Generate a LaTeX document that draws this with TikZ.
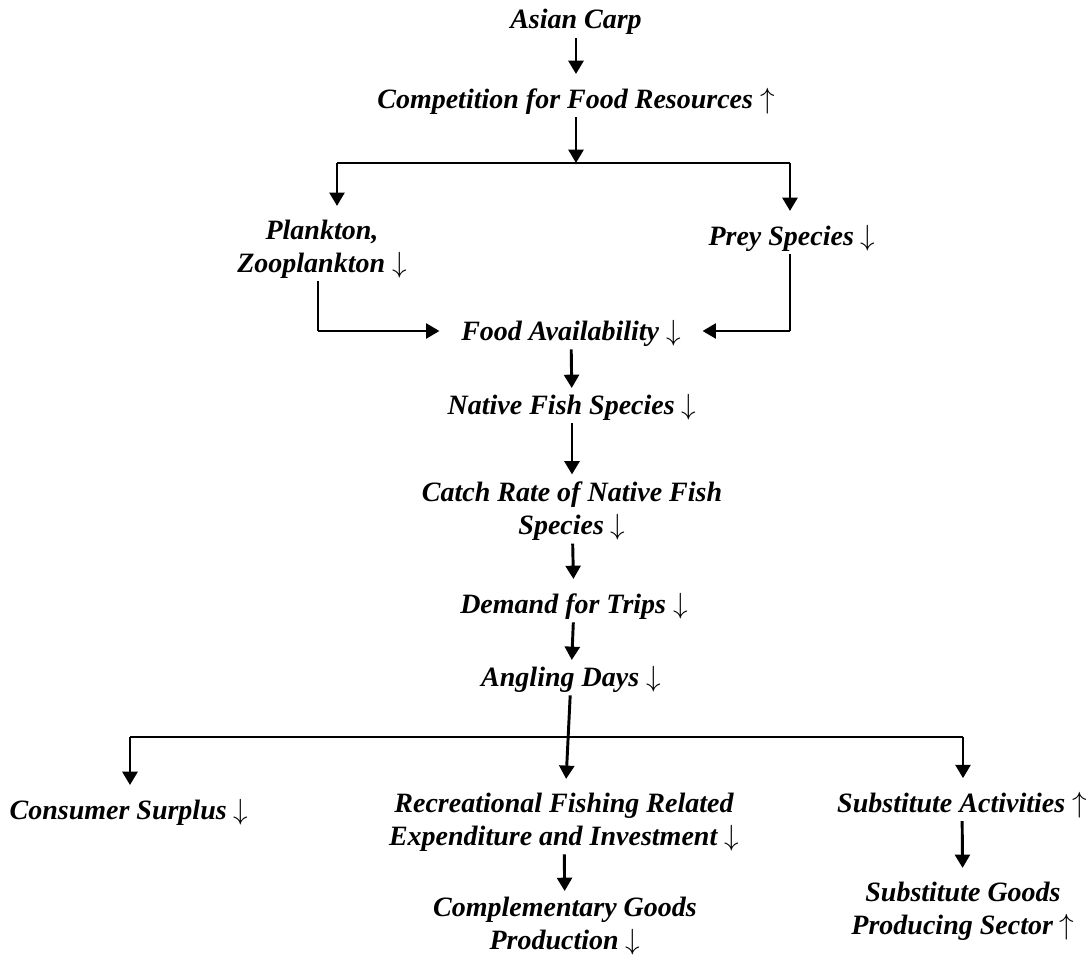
\documentclass[tikz,border=0pt]{standalone}
\usepackage{fontspec}
\setmainfont{Liberation Serif}
\usepackage{tikz}
\usetikzlibrary{arrows.meta, calc}
\newcommand{\dnarr}{$\downarrow$}
\newcommand{\uparr}{$\uparrow$}

\begin{document}
\begin{tikzpicture}[
    x=0.375pt, y=-0.375pt,
    txt/.style={
        inner sep=1pt, align=center,
        font=\fontsize{10.5}{12.4}\selectfont\bfseries\itshape
    },
    arrow/.style={-{Triangle[width=5.6pt,length=5pt]}, line width=1.1pt, shorten >=4pt},
    branch/.style={line width=0.8pt},
    feed/.style={line width=0.7pt},
]
\useasboundingbox (0,0) rectangle (1091,956);

% main chain
\node[txt] (carp) at (576,22) {Asian Carp};
\node[txt] (comp) at (576,101) {Competition for Food Resources \uparr};
\node[txt] (plank) at (322,249) {Plankton,\\Zooplankton \dnarr};
\node[txt] (prey) at (792,238) {Prey Species \dnarr};
\node[txt] (food) at (571,333) {Food Availability \dnarr};
\node[txt] (native) at (572,407) {Native Fish Species \dnarr};
\node[txt] (catch) at (572,511) {Catch Rate of Native Fish\\Species \dnarr};
\node[txt] (demand) at (574,606) {Demand for Trips \dnarr};
\node[txt] (angling) at (571,679) {Angling Days \dnarr};
% outcomes
\node[txt] (consumer) at (129,812) {Consumer Surplus \dnarr};
\node[txt] (recre) at (564,822) {Recreational Fishing Related\\Expenditure and Investment \dnarr};
\node[txt] (compl) at (565,926) {Complementary Goods\\Production \dnarr};
\node[txt] (subact) at (962,805) {Substitute Activities \uparr};
\node[txt] (subgoods) at (963,911) {Substitute Goods\\Producing Sector \uparr};

% branch points
\coordinate (fork) at (576,163);
\coordinate (forkL) at (337,163);
\coordinate (forkR) at (790,163);
\coordinate (bendL) at (318,331);
\coordinate (bendR) at (790,331);
\coordinate (forkA) at (130,737);
\coordinate (forkC) at (963,737);

\draw[arrow] (carp) -- (comp);
\draw[arrow, shorten >=0pt] (comp) -- (fork);
\draw[branch] (forkL) -- (forkR);
\draw[arrow] (forkL) -- (forkL |- plank.north);
\draw[arrow] (forkR) -- (forkR |- prey.north);
\draw[feed] (plank.south -| bendL) -- (bendL);
\draw[arrow, line width=0.9pt, shorten >=7pt] (bendL) -- (bendL -| food.west);
\draw[feed] (prey.south -| bendR) -- (bendR);
\draw[arrow, line width=0.9pt, shorten >=7pt] (bendR) -- (bendR -| food.east);
\draw[arrow, shorten >=1pt] (food) -- (native);
\draw[arrow, shorten >=1.5pt] (native) -- (catch);
\draw[arrow] (catch) -- (demand);
\draw[arrow, shorten >=1pt] (demand) -- (angling);
\draw[arrow] (angling) -- (recre);
\draw[branch] (forkA) -- (forkC);
\draw[arrow] (forkA) -- (forkA |- consumer.north);
\draw[arrow] (forkC) -- (forkC |- subact.north);
\draw[arrow, shorten >=1pt] (recre) -- (compl);
\draw[arrow] (subact) -- (subgoods);
\end{tikzpicture}
\end{document}
